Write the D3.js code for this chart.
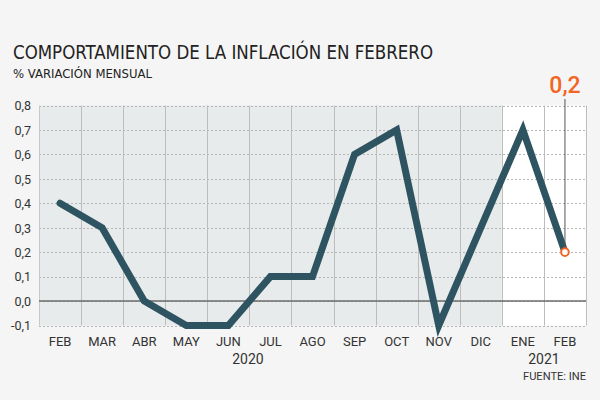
<!DOCTYPE html>
<html><head><meta charset="utf-8">
<script src="https://cdn.jsdelivr.net/npm/d3@7"></script>
<style>
html,body{margin:0;padding:0;background:#f5f5f5;}
svg{display:block;}
text{font-family:"Liberation Sans Narrow","DejaVu Sans Condensed",Roboto,sans-serif;}
</style></head>
<body>
<script>
const categories = ["FEB","MAR","ABR","MAY","JUN","JUL","AGO","SEP","OCT","NOV","DIC","ENE","FEB"];
const years = ["2020","2020","2020","2020","2020","2020","2020","2020","2020","2020","2020","2021","2021"];
const values = [0.4,0.3,0.0,-0.1,-0.1,0.1,0.1,0.6,0.7,-0.1,0.3,0.7,0.2];
const yTicks = [-0.1,0,0.1,0.2,0.3,0.4,0.5,0.6,0.7,0.8];
const title = "COMPORTAMIENTO DE LA INFLACIÓN EN FEBRERO";
const subtitle = "% VARIACIÓN MENSUAL";
const source = "FUENTE: INE";

const W = 600, H = 400;
const svg = d3.select("body").append("svg").attr("width", W).attr("height", H);
svg.append("rect").attr("width", W).attr("height", H).attr("fill", "#f5f5f5");

const idx = categories.map((d,i)=>i);
const x = d3.scaleBand().domain(idx).range([39, 586]).padding(0);
const y = d3.scaleLinear().domain([-0.1, 0.8]).range([325.5, 105.5]);
const fmt = v => d3.format(".1f")(v).replace(".", ",").replace("−","-");

// backgrounds
const n2020 = years.filter(d=>d==="2020").length;
svg.append("rect").attr("x", x(0)).attr("y", y(0.8))
  .attr("width", x(n2020-1)+x.bandwidth()-x(0)).attr("height", y(-0.1)-y(0.8)).attr("fill", "#e7ebec");
svg.append("rect").attr("x", x(n2020)).attr("y", y(0.8))
  .attr("width", x(categories.length-1)+x.bandwidth()-x(n2020)).attr("height", y(-0.1)-y(0.8)).attr("fill", "#ffffff");

// horizontal dotted grid
svg.append("g").selectAll("line").data(yTicks).join("line")
  .attr("x1", 39).attr("x2", 586)
  .attr("y1", d=>Math.round(y(d))+0.5).attr("y2", d=>Math.round(y(d))+0.5)
  .attr("stroke", "#b5b5b5").attr("stroke-width", 1).attr("stroke-dasharray", "2,2");

// vertical lines at band boundaries
const bounds = idx.map(i=>x(i)).concat([x(categories.length-1)+x.bandwidth()]);
svg.append("g").selectAll("line").data(bounds).join("line")
  .attr("x1", d=>Math.round(d)+0.5).attr("x2", d=>Math.round(d)+0.5)
  .attr("y1", y(0.8)).attr("y2", y(-0.1))
  .attr("stroke", (d,i)=> (i===0) ? "#c8c8c8" : "#bdbdbd").attr("stroke-width", 1);

// zero line
svg.append("line").attr("x1", 39).attr("x2", 586)
  .attr("y1", y(0)).attr("y2", y(0)).attr("stroke", "#6b6b6b").attr("stroke-width", 1.5);

// y axis labels
const yAxis = d3.axisLeft(y).tickValues(yTicks).tickFormat(fmt).tickSize(0).tickPadding(0);
const ya = svg.append("g").attr("transform", "translate(31,0)").call(yAxis);
ya.select(".domain").remove();
ya.selectAll("text").attr("font-size", 12.5).attr("fill", "#333").attr("dy", "0.35em")
  .style("font-family", "Roboto, sans-serif");

// x axis labels
const xAxis = d3.axisBottom(x).tickFormat(i=>categories[i]).tickSize(0).tickPadding(0);
const xa = svg.append("g").attr("transform", "translate(0,346)").call(xAxis);
xa.select(".domain").remove();
xa.selectAll("text").attr("font-size", 13).attr("fill", "#333").attr("dy", "0")
  .style("font-family", "Roboto, sans-serif");

// year labels
const yearGroups = d3.groups(idx, i=>years[i]);
svg.append("g").selectAll("text").data(yearGroups).join("text")
  .attr("x", d => d[0]==="2020" ? 248 : (x(d[1][0]) + x(d[1][d[1].length-1]) + x.bandwidth())/2)
  .attr("y", 364).attr("text-anchor", "middle").attr("font-size", 14).attr("fill", "#333")
  .style("font-family", "Roboto, sans-serif")
  .text(d=>d[0]);

// line
const line = d3.line().x((d,i)=>x(i)+x.bandwidth()/2).y(d=>y(d));
svg.append("path").datum(values).attr("d", line).attr("fill", "none")
  .attr("stroke", "#2f5461").attr("stroke-width", 7).attr("stroke-linejoin", "miter").attr("stroke-linecap", "round");

// highlight last point
const li = values.length-1;
const lx = x(li)+x.bandwidth()/2, ly = y(values[li]);
svg.append("line").attr("x1", lx).attr("x2", lx).attr("y1", 99).attr("y2", ly-4)
  .attr("stroke", "#555").attr("stroke-width", 1);
svg.append("circle").attr("cx", lx).attr("cy", ly).attr("r", 3.8)
  .attr("fill", "#fff").attr("stroke", "#f26522").attr("stroke-width", 2);
svg.append("text").attr("x", lx).attr("y", 93).attr("text-anchor", "middle")
  .attr("font-size", 23).attr("font-weight", 500).attr("fill", "#f26522").style("font-family", "Roboto, sans-serif")
  .text(fmt(values[li]));

// titles
svg.append("text").attr("x", 13).attr("y", 59).attr("font-size", 20).attr("fill", "#222")
  .attr("textLength", 420).attr("lengthAdjust", "spacingAndGlyphs").text(title);
svg.append("text").attr("x", 13).attr("y", 78).attr("font-size", 13).attr("fill", "#222")
  .attr("textLength", 139).attr("lengthAdjust", "spacingAndGlyphs").text(subtitle);
svg.append("text").attr("x", 586).attr("y", 380).attr("text-anchor", "end").attr("font-size", 10).attr("fill", "#333")
  .attr("textLength", 63).attr("lengthAdjust", "spacingAndGlyphs")
  .style("font-family", "Roboto, sans-serif").text(source);
</script>
</body></html>
